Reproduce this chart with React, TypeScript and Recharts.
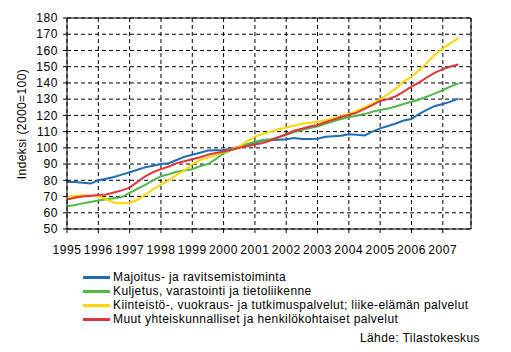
import { CartesianGrid, Line, LineChart, ReferenceLine, XAxis, YAxis } from "recharts";

// quarterly points, 1995 Q1 .. 2007 Q3
const QUARTERS = [
  1995, 1995.25, 1995.5, 1995.75, 1996, 1996.25, 1996.5, 1996.75, 1997, 1997.25, 1997.5, 1997.75,
  1998, 1998.25, 1998.5, 1998.75, 1999, 1999.25, 1999.5, 1999.75, 2000, 2000.25, 2000.5, 2000.75,
  2001, 2001.25, 2001.5, 2001.75, 2002, 2002.25, 2002.5, 2002.75, 2003, 2003.25, 2003.5, 2003.75,
  2004, 2004.25, 2004.5, 2004.75, 2005, 2005.25, 2005.5, 2005.75, 2006, 2006.25, 2006.5, 2006.75,
  2007, 2007.25, 2007.5,
];

const MAJOITUS = [
  79, 79, 78.5, 78, 80, 81, 82, 83.5, 85, 86.5, 88, 89,
  90, 90.5, 92.5, 94.5, 95.7, 97, 98.3, 98.5, 98.7, 99.5, 100.8, 102,
  103.2, 104.5, 104.9, 105, 105.3, 106, 105.5, 105.5, 105.6, 106.8, 107.1, 107.4,
  108.4, 108, 107.6, 110, 112, 113.5, 115, 116.8, 117.8, 121, 123.5, 125.8,
  127, 128.5, 130.3,
];

const KULJETUS = [
  64, 64.8, 65.8, 66.7, 67.6, 68.3, 69, 69.7, 72.3, 74.8, 77.2, 80,
  82.5, 83.7, 85.3, 86, 86.8, 88.7, 90, 93, 96.7, 98.7, 100.4, 102.2,
  103.8, 104.9, 105.3, 106.5, 108, 109.8, 111, 112.2, 113.1, 114.8, 116.3, 117.8,
  118.8, 119.8, 120.8, 122.2, 123.3, 124.3, 125.5, 127, 128.4, 129.8, 131.6, 133.6,
  135.6, 137.8, 139.7,
];

const KIINTEISTO = [
  69.7, 70.5, 70.8, 70.5, 70.2, 68.5, 66.2, 65.8, 66.2, 68, 71, 74.5,
  77.3, 80, 83.3, 86, 90, 92.5, 94, 95.5, 97.3, 99, 100.8, 104,
  106.9, 108.5, 110, 111.5, 112.5, 113.6, 114.8, 115.5, 116.1, 117, 118.2, 119.5,
  120.9, 122.8, 125, 127, 129.9, 133, 136.5, 141, 143.8, 148, 152.5, 157.5,
  161.2, 164.5, 167.4,
];

const MUUT = [
  68.2, 69.2, 70, 70.5, 70.9, 71.3, 72.5, 73.8, 75.5, 79, 82.5, 85,
  86.9, 88.5, 90.6, 91.8, 93, 94.2, 95.7, 96.8, 97.7, 98.8, 100, 101,
  102, 103, 104.5, 106.5, 108.4, 110.5, 111.8, 113.1, 114.1, 115.8, 117.3, 119,
  120.2, 121.7, 124, 126.3, 128.9, 130, 131.8, 134.7, 137.7, 140.4, 143.5, 146.3,
  148.5, 150.1, 151.4,
];

const YEAR_TICKS = [1995, 1996, 1997, 1998, 1999, 2000, 2001, 2002, 2003, 2004, 2005, 2006, 2007];
const Y_TICKS = [50, 60, 70, 80, 90, 100, 110, 120, 130, 140, 150, 160, 170, 180];
const X_END = 2007.9;

const SERIES = [
  { key: "majoitus", name: "Majoitus- ja ravitsemistoiminta", color: "#1f6db5", values: MAJOITUS },
  { key: "kuljetus", name: "Kuljetus, varastointi ja tietoliikenne", color: "#52b848", values: KULJETUS },
  { key: "kiinteisto", name: "Kiinteistö-, vuokraus- ja tutkimuspalvelut; liike-elämän palvelut", color: "#ffd600", values: KIINTEISTO },
  { key: "muut", name: "Muut yhteiskunnalliset ja henkilökohtaiset palvelut", color: "#e0353a", values: MUUT },
];

const data = QUARTERS.map((q, i) => {
  const row: Record<string, number> = { q };
  SERIES.forEach((s) => {
    row[s.key] = s.values[i];
  });
  return row;
});

const FONT = "'Liberation Sans', Arial, sans-serif";
const tick = { fill: "#000", fontSize: 12, fontFamily: FONT, letterSpacing: 0.6 };

export default function App() {
  return (
    <div style={{ position: "absolute", left: 0, top: 0, width: 511, height: 352, background: "#fff", fontFamily: FONT }}>
      <LineChart width={511} height={352} data={data} margin={{ top: 18, right: 40, bottom: 93, left: 0 }}>
        <CartesianGrid stroke="#000" strokeDasharray="4 3" />
        <XAxis
          dataKey="q"
          type="number"
          domain={[1995, X_END]}
          ticks={YEAR_TICKS}
          tick={tick}
          tickSize={4}
          tickMargin={12}
          height={30}
          interval={0}
          stroke="#000"
          allowDataOverflow
        />
        <YAxis
          domain={[50, 180]}
          ticks={Y_TICKS}
          tick={tick}
          tickSize={4}
          tickMargin={5}
          width={67}
          stroke="#000"
          interval={0}
          label={{
            content: () => (
              <text x={23} y={124} transform="rotate(-90 23 124)" textAnchor="middle" dominantBaseline="middle" fontSize={12} fontFamily={FONT} letterSpacing={0.4} fill="#000">
                Indeksi (2000=100)
              </text>
            ),
          }}
        />
        <ReferenceLine y={180} stroke="#000" />
        <ReferenceLine x={X_END} stroke="#000" />
        {SERIES.map((s) => (
          <Line
            key={s.key}
            dataKey={s.key}
            name={s.name}
            stroke={s.color}
            strokeWidth={2}
            dot={false}
            type="linear"
            isAnimationActive={false}
          />
        ))}
      </LineChart>
      {SERIES.map((s, i) => (
        <div key={s.key} style={{ position: "absolute", left: 83, top: 270 + i * 14, height: 14, display: "flex", alignItems: "center" }}>
          <div style={{ width: 27, height: 3, background: s.color }} />
          <span style={{ marginLeft: 3, fontSize: 12, letterSpacing: 0.4, color: "#000", whiteSpace: "nowrap" }}>{s.name}</span>
        </div>
      ))}
      <div style={{ position: "absolute", right: 31, top: 331, fontSize: 12, letterSpacing: 0.4, color: "#000" }}>Lähde: Tilastokeskus</div>
    </div>
  );
}
